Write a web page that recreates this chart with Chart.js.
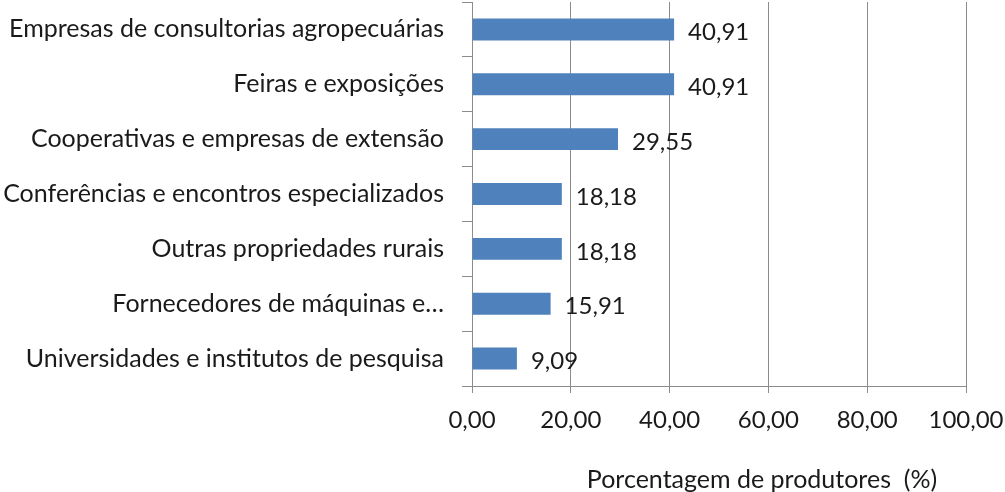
<!DOCTYPE html>
<html><head><meta charset="utf-8">
<script src="https://cdn.jsdelivr.net/npm/chart.js@4/dist/chart.umd.min.js"></script>
<style>html,body{margin:0;padding:0;background:#fff}#wrap{width:1005px;height:492px}</style>
</head><body><div id="wrap"><canvas id="c"></canvas></div>
<script>
const categories = [
  "Empresas de consultorias agropecuárias",
  "Feiras e exposições",
  "Cooperativas e empresas de extensão",
  "Conferências e encontros especializados",
  "Outras propriedades rurais",
  "Fornecedores de máquinas e…",
  "Universidades e institutos de pesquisa"
];
const values = [40.91, 40.91, 29.55, 18.18, 18.18, 15.91, 9.09];
const xTicks = [0, 20, 40, 60, 80, 100];
const axisTitle = "Porcentagem de produtores  (%)";

const FONT = "Lato, 'Open Sans', sans-serif";
const FS = 24;
const FL = 25;
const fmt = v => v.toFixed(2).replace('.', ',');

const labelPlugin = {
  id: 'valLabels',
  afterDatasetsDraw(chart) {
    const ctx = chart.ctx;
    const meta = chart.getDatasetMeta(0);
    ctx.save();
    ctx.font = FS + "px " + FONT;
    ctx.fillStyle = "#1a1a1a";
    ctx.textAlign = "left";
    ctx.textBaseline = "middle";
    meta.data.forEach((bar, i) => {
      ctx.fillText(fmt(values[i]), bar.x + 14, bar.y + 3);
    });
    ctx.restore();
  }
};
const titlePlugin = {
  id: 'axisTitle',
  afterDraw(chart) {
    const ctx = chart.ctx;
    const xs = chart.scales.x;
    ctx.save();
    ctx.font = FL + "px " + FONT;
    ctx.fillStyle = "#1a1a1a";
    ctx.textAlign = "center";
    ctx.textBaseline = "alphabetic";
    ctx.fillText(axisTitle, (xs.left + xs.right) / 2 + 43, 488);
    ctx.restore();
  }
};

new Chart(document.getElementById('c'), {
  type: 'bar',
  data: {
    labels: categories,
    datasets: [{
      data: values,
      backgroundColor: '#4F81BD',
      borderWidth: 0,
      barPercentage: 0.8,
      categoryPercentage: 0.5
    }]
  },
  options: {
    indexAxis: 'y',
    responsive: true,
    maintainAspectRatio: false,
    animation: false,
    devicePixelRatio: 1,
    layout: { padding: { top: 2, right: 39, left: 0, bottom: 0 } },
    plugins: { legend: { display: false }, tooltip: { enabled: false } },
    scales: {
      x: {
        min: 0, max: 100,
        afterBuildTicks(s) { s.ticks = xTicks.map(v => ({ value: v })); },
        afterFit(s) { s.height = 106; s.paddingLeft = 0; s.paddingRight = 0; },
        grid: { color: '#8c8c8c', lineWidth: 1, tickLength: 7, drawTicks: true },
        border: { color: '#8c8c8c', width: 1 },
        ticks: {
          font: { family: FONT, size: FS }, color: '#1a1a1a', padding: 13,
          maxRotation: 0, callback: v => fmt(v)
        }
      },
      y: {
        afterFit(s) { s.width = 472; s.paddingTop = 0; s.paddingBottom = 0; },
        grid: { display: true, drawOnChartArea: false, color: '#8c8c8c', tickLength: 10, offset: true },
        border: { color: '#8c8c8c', width: 1 },
        ticks: { font: { family: FONT, size: FL }, color: '#1a1a1a', padding: 18, autoSkip: false }
      }
    }
  },
  plugins: [labelPlugin, titlePlugin]
});
</script></body></html>
